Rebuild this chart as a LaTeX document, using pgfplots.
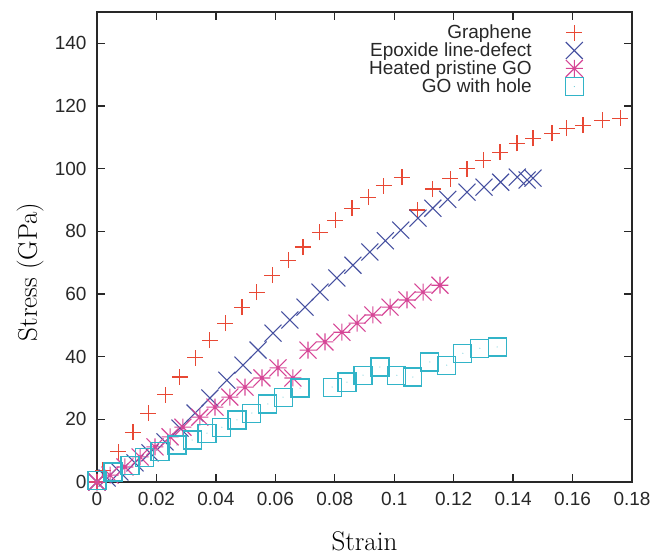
\documentclass[border=0pt]{standalone}
\usepackage{fontspec}
\setsansfont{Liberation Sans}
\usepackage{pgfplots}
\pgfplotsset{compat=1.18}
\usetikzlibrary{calc}
\definecolor{gpred}{RGB}{232,72,52}
\definecolor{gpblue}{RGB}{70,80,160}
\definecolor{gpmag}{RGB}{214,70,150}
\definecolor{gpcyan}{RGB}{50,180,200}
\definecolor{axgray}{RGB}{40,40,40}
\pgfdeclareplotmark{gpplus}{%
  \pgfpathmoveto{\pgfqpoint{-\pgfplotmarksize}{0pt}}\pgfpathlineto{\pgfqpoint{\pgfplotmarksize}{0pt}}%
  \pgfpathmoveto{\pgfqpoint{0pt}{-\pgfplotmarksize}}\pgfpathlineto{\pgfqpoint{0pt}{\pgfplotmarksize}}%
  \pgfusepathqstroke}
\pgfdeclareplotmark{gpx}{%
  \pgfpathmoveto{\pgfqpoint{-\pgfplotmarksize}{-\pgfplotmarksize}}\pgfpathlineto{\pgfqpoint{\pgfplotmarksize}{\pgfplotmarksize}}%
  \pgfpathmoveto{\pgfqpoint{-\pgfplotmarksize}{\pgfplotmarksize}}\pgfpathlineto{\pgfqpoint{\pgfplotmarksize}{-\pgfplotmarksize}}%
  \pgfusepathqstroke}
\pgfdeclareplotmark{gpstar}{%
  \pgfpathmoveto{\pgfqpoint{-\pgfplotmarksize}{0pt}}\pgfpathlineto{\pgfqpoint{\pgfplotmarksize}{0pt}}%
  \pgfpathmoveto{\pgfqpoint{0pt}{-\pgfplotmarksize}}\pgfpathlineto{\pgfqpoint{0pt}{\pgfplotmarksize}}%
  \pgfpathmoveto{\pgfqpoint{-\pgfplotmarksize}{-\pgfplotmarksize}}\pgfpathlineto{\pgfqpoint{\pgfplotmarksize}{\pgfplotmarksize}}%
  \pgfpathmoveto{\pgfqpoint{-\pgfplotmarksize}{\pgfplotmarksize}}\pgfpathlineto{\pgfqpoint{\pgfplotmarksize}{-\pgfplotmarksize}}%
  \pgfusepathqstroke}
\pgfdeclareplotmark{gpsq}{%
  \pgfpathrectangle{\pgfqpoint{-\pgfplotmarksize}{-\pgfplotmarksize}}{\pgfqpoint{2\pgfplotmarksize}{2\pgfplotmarksize}}%
  \pgfusepathqstroke
  \pgfpathcircle{\pgfpointorigin}{0.5pt}\pgfusepathqfill}

\pgfplotstableread{
x y
0 0
0.002 3.8
0.0071 9.6
0.0121 15.9
0.0172 22.0
0.0229 27.8
0.0279 33.5
0.0330 39.6
0.0380 45.3
0.0431 50.7
0.0488 55.8
0.0538 60.6
0.0589 66.0
0.0643 70.8
0.0693 75.0
0.0750 79.7
0.0801 83.6
0.0858 87.4
0.0912 90.9
0.0965 94.5
0.1026 97.3
0.1077 86.8
0.1130 93.5
0.1188 96.8
0.1245 100.0
0.1299 102.7
0.1356 105.3
0.1413 108.1
0.1467 109.7
0.1531 111.3
0.1580 112.9
0.1635 113.9
0.1700 115.5
0.1760 116.1
}\graphene

\pgfplotstableread{
x y
0 0
0.0034 1.3
0.0077 3.2
0.0128 6.1
0.0178 9.3
0.0229 12.8
0.0279 17.2
0.0330 22.0
0.0380 26.8
0.0437 32.5
0.0491 37.3
0.0542 42.1
0.0592 47.5
0.0649 51.7
0.0700 55.8
0.0750 60.6
0.0807 65.1
0.0861 69.2
0.0918 73.4
0.0970 77.0
0.1022 80.4
0.1080 84.2
0.1130 87.4
0.1180 90.2
0.1245 92.5
0.1302 94.1
0.1358 95.7
0.1414 97.3
0.1447 96.4
0.1467 97.0
}\epoxide

\pgfplotstableread{
x y
0 0
0.0044 2.2
0.0094 4.8
0.0145 8.0
0.0195 11.2
0.0246 14.4
0.0289 17.5
0.0346 20.7
0.0397 23.9
0.0447 27.1
0.0498 30.3
0.0555 33.2
0.0609 36.4
0.0659 33.2
0.0710 42.1
0.0767 44.7
0.0824 47.8
0.0875 50.7
0.0928 53.3
0.0986 55.8
0.1043 58.1
0.1097 60.6
0.1154 62.8
}\heated

\pgfplotstableread{
x y
0 0.6
0.0054 3.2
0.0111 5.4
0.0161 7.7
0.0212 9.6
0.0269 11.8
0.0320 13.4
0.0370 15.6
0.0420 17.5
0.0471 19.8
0.0521 22.0
0.0575 24.9
0.0626 27.1
0.0683 30.0
0.0791 30.3
0.0841 31.9
0.0895 34.1
0.0952 36.7
0.1009 34.1
0.1063 33.5
0.1120 38.3
0.1177 37.3
0.1231 41.1
0.1288 42.7
0.1346 43.1
}\hole

\begin{document}
\begin{tikzpicture}
\begin{axis}[
  scale only axis,
  width=535pt, height=470pt,
  xmin=0, xmax=0.18, ymin=0, ymax=150,
  xtick={0,0.02,0.04,0.06,0.08,0.1,0.12,0.14,0.16,0.18},
  xticklabels={\textsf{0},\textsf{0.02},\textsf{0.04},\textsf{0.06},\textsf{0.08},\textsf{0.1},\textsf{0.12},\textsf{0.14},\textsf{0.16},\textsf{0.18}},
  ytick={0,20,40,60,80,100,120,140},
  yticklabels={\textsf{0},\textsf{20},\textsf{40},\textsf{60},\textsf{80},\textsf{100},\textsf{120},\textsf{140}},
  tick align=inside,
  major tick length=8pt,
  axis line style={axgray, line width=1.4pt},
  every tick/.style={axgray, line width=1.4pt},
  tick label style={font=\fontsize{19}{22}\selectfont\sffamily, text=axgray},
  yticklabel style={xshift=-7pt},
  xticklabel style={yshift=-7pt},
  xlabel={Strain},
  ylabel={Stress (GPa)},
  label style={font=\fontsize{27}{32}\selectfont},
  xlabel style={at={(axis description cs:0.5,-0.1255)}, anchor=center},
  ylabel style={at={(axis description cs:-0.125,0.447)}, anchor=center, rotate=0},
  legend style={draw=none, fill=none, at={(axis description cs:0.915,0.979)}, anchor=north east,
    font=\fontsize{19}{20}\selectfont\sffamily, text=axgray, row sep=0.6pt,
    nodes={inner sep=1pt}},
  legend cell align=right,
  legend plot pos=right,
  legend image code/.code={\path (0pt,0pt); \draw[#1] plot coordinates {(41pt,0pt)};},
  every axis plot/.append style={only marks, mark size=8.5pt, line width=1.1pt},
]
\addplot[gpred, mark=gpplus, mark size=8pt] table[x=x,y=y] {\graphene};
\addlegendentry{Graphene}
\addplot[gpblue, mark=gpx] table[x=x,y=y] {\epoxide};
\addlegendentry{Epoxide line-defect}
\addplot[gpmag, mark=gpstar] table[x=x,y=y] {\heated};
\addlegendentry{Heated pristine GO}
\addplot[gpcyan, mark=gpsq, mark size=9pt] table[x=x,y=y] {\hole};
\addlegendentry{GO with hole}
\end{axis}
\path[use as bounding box] ($(current axis.south west)+(-97pt,-76pt)$) rectangle ($(current axis.north east)+(27pt,12pt)$);
\end{tikzpicture}
\end{document}
